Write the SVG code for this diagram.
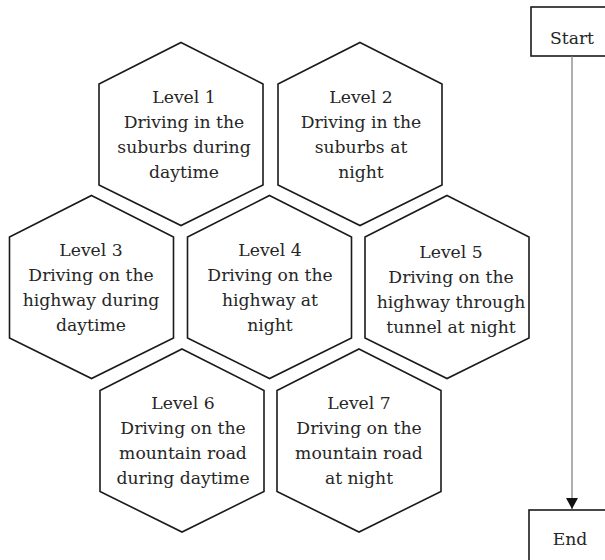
<svg xmlns="http://www.w3.org/2000/svg" xmlns:xlink="http://www.w3.org/1999/xlink" width="605" height="560" viewBox="0 0 605 560">
  <style>
    .hex { fill: #ffffff; stroke: #1a1a1a; stroke-width: 1.6; stroke-linejoin: miter; }
    .box { fill: #ffffff; stroke: #1a1a1a; stroke-width: 1.6; }
    .lbl { font-family: "DejaVu Serif", "Liberation Serif", serif; font-size: 17.2px; fill: #262626; text-anchor: middle; }
    .flow { stroke: #7a7a7a; stroke-width: 1.2; fill: none; }
  </style>
  <defs>
    <!-- pointy-top hexagon centred on the origin -->
    <polygon id="hexShape" points="0,-91.5 82,-50 82,51 0,91.5 -82,51 -82,-50"/>
    <marker id="arrowHead" viewBox="0 0 11 12" refX="11" refY="6" markerWidth="11" markerHeight="12" markerUnits="userSpaceOnUse" orient="auto">
      <path d="M0,0 L11,6 L0,12 Z" fill="#111111"/>
    </marker>
  </defs>

  <rect width="605" height="560" fill="#ffffff"/>

  <!-- level hexagons -->
  <g id="level1">
    <use xlink:href="#hexShape" class="hex" x="181" y="134"/>
    <text class="lbl" x="184" y="103">Level 1</text>
    <text class="lbl" x="184" y="128">Driving in the</text>
    <text class="lbl" x="184" y="153">suburbs during</text>
    <text class="lbl" x="184" y="178">daytime</text>
  </g>
  <g id="level2">
    <use xlink:href="#hexShape" class="hex" x="360" y="134"/>
    <text class="lbl" x="361" y="103">Level 2</text>
    <text class="lbl" x="361" y="128">Driving in the</text>
    <text class="lbl" x="361" y="153">suburbs at</text>
    <text class="lbl" x="361" y="178">night</text>
  </g>
  <g id="level3">
    <use xlink:href="#hexShape" class="hex" x="91.5" y="287"/>
    <text class="lbl" x="91" y="256">Level 3</text>
    <text class="lbl" x="91" y="281">Driving on the</text>
    <text class="lbl" x="91" y="306">highway during</text>
    <text class="lbl" x="91" y="331">daytime</text>
  </g>
  <g id="level4">
    <use xlink:href="#hexShape" class="hex" x="269.5" y="287"/>
    <text class="lbl" x="270" y="256">Level 4</text>
    <text class="lbl" x="270" y="281">Driving on the</text>
    <text class="lbl" x="270" y="306">highway at</text>
    <text class="lbl" x="270" y="331">night</text>
  </g>
  <g id="level5">
    <use xlink:href="#hexShape" class="hex" x="447" y="287"/>
    <text class="lbl" x="451" y="258">Level 5</text>
    <text class="lbl" x="451" y="283">Driving on the</text>
    <text class="lbl" x="451" y="308">highway through</text>
    <text class="lbl" x="451" y="333">tunnel at night</text>
  </g>
  <g id="level6">
    <use xlink:href="#hexShape" class="hex" x="182" y="440.5"/>
    <text class="lbl" x="183" y="409">Level 6</text>
    <text class="lbl" x="183" y="434">Driving on the</text>
    <text class="lbl" x="183" y="459">mountain road</text>
    <text class="lbl" x="183" y="484">during daytime</text>
  </g>
  <g id="level7">
    <use xlink:href="#hexShape" class="hex" x="359" y="440.5"/>
    <text class="lbl" x="359" y="409">Level 7</text>
    <text class="lbl" x="359" y="434">Driving on the</text>
    <text class="lbl" x="359" y="459">mountain road</text>
    <text class="lbl" x="359" y="484">at night</text>
  </g>

  <!-- start / end terminals -->
  <g id="start">
    <rect class="box" x="531" y="7" width="90" height="49"/>
    <text class="lbl" x="572" y="44">Start</text>
  </g>
  <g id="end">
    <rect class="box" x="529" y="510" width="90" height="70"/>
    <text class="lbl" x="570" y="545">End</text>
  </g>

  <!-- connectors -->
  <g id="connectors">
    <line class="flow" x1="572" y1="56" x2="572" y2="509" marker-end="url(#arrowHead)"/>
  </g>
</svg>
